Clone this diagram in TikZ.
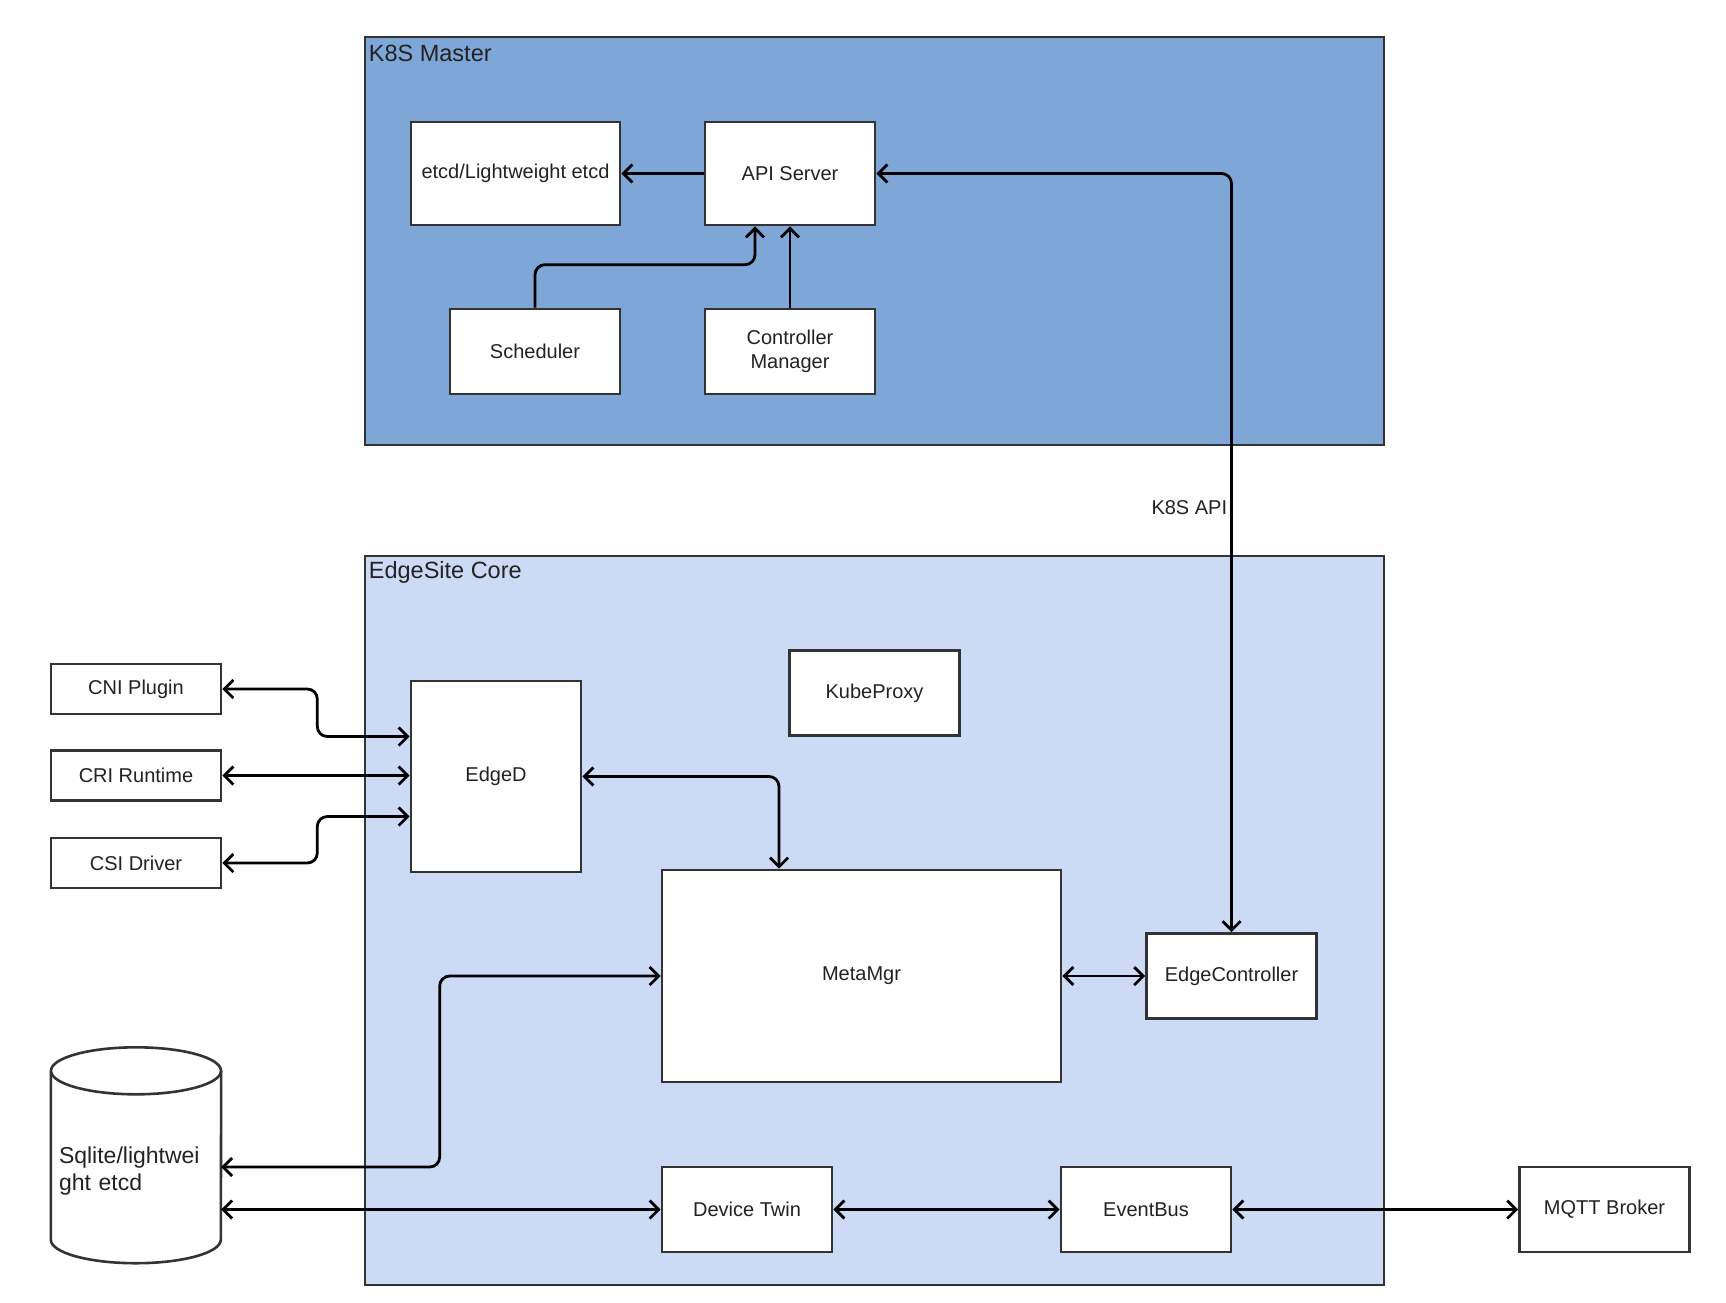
\documentclass[tikz,border=0pt]{standalone}
\usepackage{fontspec}
\setmainfont{Liberation Sans}
\usetikzlibrary{arrows.meta}
\definecolor{masterblue}{RGB}{126,167,216}
\definecolor{coreblue}{RGB}{204,218,245}
\definecolor{linegray}{RGB}{51,51,51}
\definecolor{txtgray}{RGB}{34,34,34}
\tikzset{
  comp/.style={draw=linegray, fill=white, line width=2.6pt, minimum width=170pt,
    minimum height=85pt, inner sep=0pt, align=center, text=txtgray,
    font=\fontsize{20}{24}\selectfont},
  group/.style={draw=linegray, line width=2.6pt, minimum width=1019pt, inner sep=0pt},
  grouptitle/.style={anchor=west, inner sep=0pt, text=txtgray,
    font=\fontsize{23.5}{27}\selectfont},
  conn/.style={line width=2.8pt, rounded corners=10pt},
  >={Straight Barb[length=9pt,width=18pt]}
}
\begin{document}
\begin{tikzpicture}[x=1pt,y=-1pt]
\useasboundingbox (0,0) rectangle (1726,1302);
% groups
\node[group, fill=masterblue, minimum height=408pt] (master) at (874.5,241) {};
\node[grouptitle] (mastertitle) at ([xshift=5pt,yshift=-18pt]master.north west) {K8S Master};
\node[group, fill=coreblue, minimum height=729pt] (core) at (874.5,920.5) {};
\node[grouptitle] (coretitle) at ([xshift=5pt,yshift=-18pt]core.north west) {EdgeSite Core};
% k8s master parts
\node[comp, minimum width=209pt, minimum height=103pt] (etcd) at (515.5,173.5) {etcd/Lightweight etcd};
\node[comp, minimum height=103pt] (api) at (790,173.5) {API Server};
\node[comp] (sched) at (535,351.5) {Scheduler};
\node[comp] (ctrl) at (790,351.5) {Controller\\Manager};
% edge parts
\node[comp] (kproxy) at (874.5,693) {KubeProxy};
\node[comp, minimum height=191pt] (edged) at (496,776.5) {EdgeD};
\node[comp, minimum width=399pt, minimum height=212pt] (meta) at (861.5,976) {MetaMgr};
\node[comp] (ectl) at (1231.5,976) {EdgeController};
\node[comp] (twin) at (747,1209.5) {Device Twin};
\node[comp] (bus) at (1146,1209.5) {EventBus};
\node[comp] (mqtt) at (1604.5,1209.5) {MQTT Broker};
% outside parts
\node[comp, minimum height=50pt] (cni) at (136,689) {CNI Plugin};
\node[comp, minimum height=50pt] (cri) at (136,775.5) {CRI Runtime};
\node[comp, minimum height=50pt] (csi) at (136,863) {CSI Driver};
% database
\node[minimum width=170pt, minimum height=192pt, inner sep=0pt] (db) at (136,1167) {};
\draw[draw=linegray, fill=white, line width=2.6pt] (db.north west) -- ([yshift=23.5pt]db.south west)
  arc[start angle=180, end angle=0, x radius=85, y radius=23.5] -- (db.north east);
\draw[draw=linegray, fill=white, line width=2.6pt] (db.north) ellipse[x radius=85, y radius=23.5];
\node[text width=156pt, align=left, inner sep=0pt, text=txtgray,
  font=\fontsize{23}{27}\selectfont] (dbtext) at ([xshift=1pt,yshift=-4pt]db.center) {Sqlite/lightwei\\ght etcd};
% connectors
\draw[conn,->] (api) -- (etcd);
\draw[conn,->] (ctrl) -- (api);
\draw[conn,->] (sched.north) -- ++(0,-43) -| ([xshift=-35pt]api.south);
\draw[conn,<->] (api.east) -| node[pos=0.72, left, inner sep=3pt, text=txtgray,
  font=\fontsize{20}{24}\selectfont] (apilabel) {K8S API} (ectl.north);
\draw[conn,<->] (cni.east) -- ++(95,0) |- ([yshift=40pt]edged.west);
\draw[conn,<->] (cri) -- (cri -| edged.west);
\draw[conn,<->] (csi.east) -- ++(95,0) |- ([yshift=-40pt]edged.west);
\draw[conn,<->] (edged.east) -| ([xshift=-82.5pt]meta.north);
\draw[conn,<->] (meta) -- (ectl);
\draw[conn,<->] (meta.west) -- ++(-221,0) |- (db.east);
\draw[conn,<->] (twin.west) -- (twin.west -| db.east);
\draw[conn,<->] (twin) -- (bus);
\draw[conn,<->] (bus) -- (mqtt);
\end{tikzpicture}
\end{document}
